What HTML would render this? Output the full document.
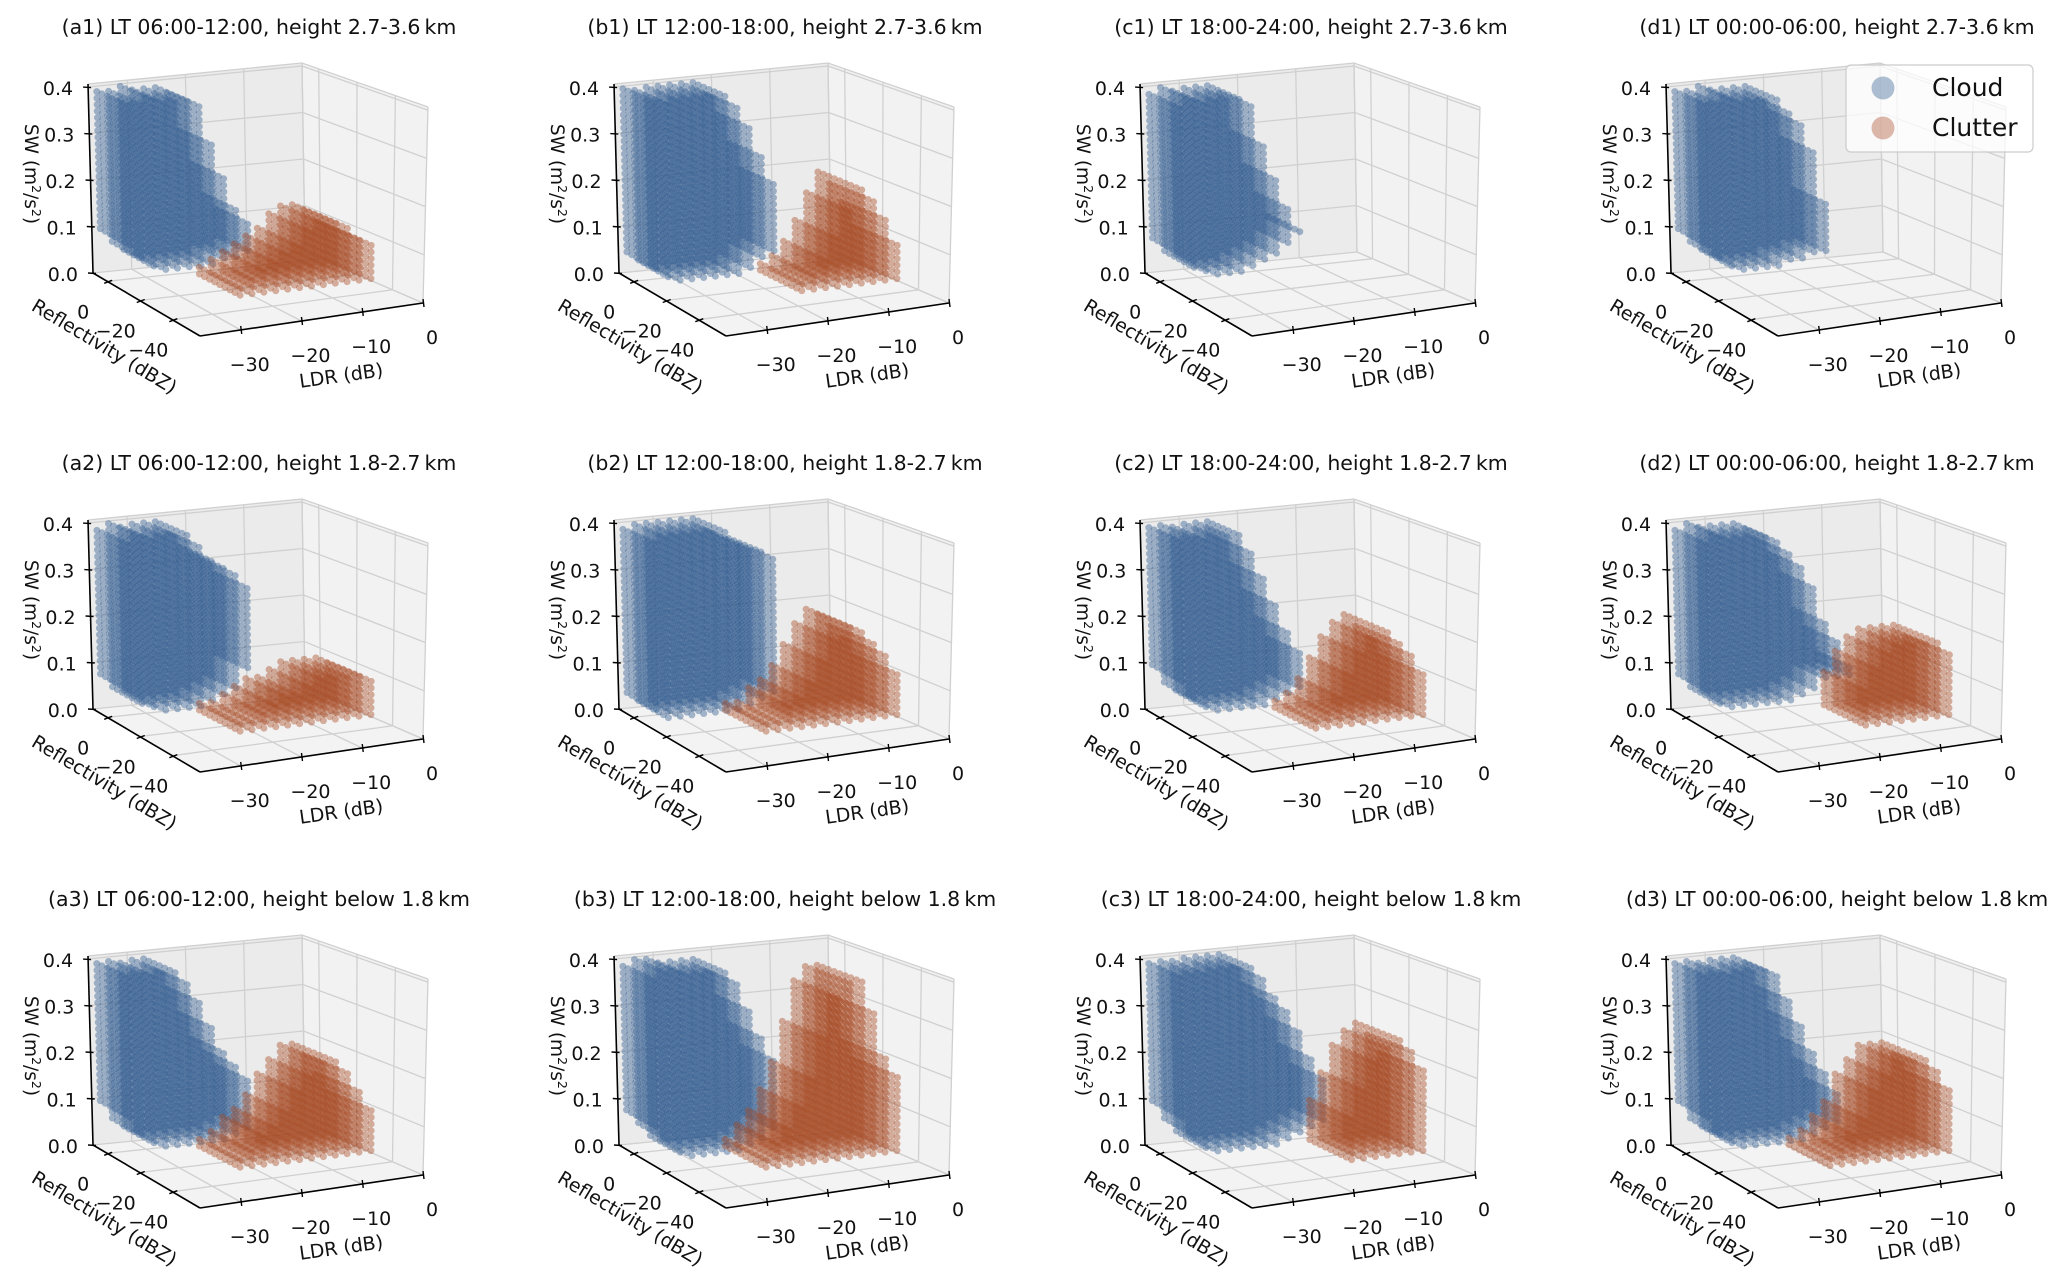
<!DOCTYPE html>
<html><head><meta charset="utf-8">
<style>
html,body{margin:0;padding:0;background:#fff;}
svg{display:block;font-family:"DejaVu Sans","Liberation Sans",sans-serif;}
</style></head>
<body>
<svg id="fig" width="2067" height="1288" viewBox="0 0 2067 1288" xmlns="http://www.w3.org/2000/svg">
<rect width="2067" height="1288" fill="#fff"/>
</svg>
<script>
// ---- data ----
const panelIds = ["a1","b1","c1","d1","a2","b2","c2","d2","a3","b3","c3","d3"];
const panelTitles = [
 "(a1) LT 06:00-12:00, height 2.7-3.6\u2009km","(b1) LT 12:00-18:00, height 2.7-3.6\u2009km","(c1) LT 18:00-24:00, height 2.7-3.6\u2009km","(d1) LT 00:00-06:00, height 2.7-3.6\u2009km",
 "(a2) LT 06:00-12:00, height 1.8-2.7\u2009km","(b2) LT 12:00-18:00, height 1.8-2.7\u2009km","(c2) LT 18:00-24:00, height 1.8-2.7\u2009km","(d2) LT 00:00-06:00, height 1.8-2.7\u2009km",
 "(a3) LT 06:00-12:00, height below 1.8\u2009km","(b3) LT 12:00-18:00, height below 1.8\u2009km","(c3) LT 18:00-24:00, height below 1.8\u2009km","(d3) LT 00:00-06:00, height below 1.8\u2009km"];
const zTicks = [0.0,0.1,0.2,0.3,0.4];
const zTickLabels = ["0.0","0.1","0.2","0.3","0.4"];
const reflTicks = [0,-20,-40];
const reflTickLabels = ["0","\u221220","\u221240"];
const ldrTicks = [-30,-20,-10,0];
const ldrTickLabels = ["\u221230","\u221220","\u221210","0"];
// cloud: LDR bins, per-panel top/bottom SW envelope, reflectivity span
const cloudLdr = [-36,-34,-32,-30,-28,-26,-24,-22,-20,-18,-16,-14,-12];
const cloudReflSpan = [6,-12];
const cloudTop = {
 a1:[.4,.4,.4,.4,.4,.4,.38,.3,.22,.16,.12,0,0],
 b1:[.4,.4,.4,.4,.4,.4,.4,.38,.33,.26,.2,0,0],
 c1:[.4,.4,.4,.4,.4,.4,.38,.3,.22,.15,.1,0,0],
 d1:[.4,.4,.4,.4,.4,.4,.4,.37,.33,.28,.16,0,0],
 a2:[.4,.4,.4,.4,.4,.4,.37,.34,.32,.3,.28,0,0],
 b2:[.4,.4,.4,.4,.4,.4,.4,.38,.36,.35,.34,0,0],
 c2:[.4,.4,.4,.4,.4,.4,.36,.3,.24,.18,.14,0,0],
 d2:[.4,.4,.4,.4,.4,.4,.38,.35,.32,.28,.2,.15,.1],
 a3:[.4,.4,.4,.4,.4,.37,.33,.28,.22,.18,.15,0,0],
 b3:[.4,.4,.4,.4,.4,.4,.4,.36,.3,.25,.2,0,0],
 c3:[.4,.4,.4,.4,.4,.4,.4,.38,.34,.3,.26,.2,.15],
 d3:[.4,.4,.4,.4,.4,.4,.38,.33,.27,.22,.17,.12,0]};
const cloudBot = {
 a1:[.1,.07,.05,.04,.04,.04,.04,.04,.05,.05,.06,0,0],
 b1:[.05,.03,.02,.02,.02,.02,.02,.02,.03,.05,.06,0,0],
 c1:[.08,.05,.04,.03,.03,.03,.04,.05,.06,.08,.1,0,0],
 d1:[.1,.07,.05,.04,.04,.04,.04,.05,.05,.06,.06,0,0],
 a2:[.08,.05,.04,.03,.03,.03,.03,.04,.05,.06,.1,0,0],
 b2:[.04,.02,.02,.02,.02,.02,.02,.02,.03,.04,.05,0,0],
 c2:[.1,.06,.04,.03,.03,.03,.03,.03,.04,.05,.06,0,0],
 d2:[.08,.05,.04,.04,.04,.04,.04,.04,.05,.06,.08,.08,.08],
 a3:[.1,.06,.04,.03,.03,.03,.03,.03,.03,.04,.05,0,0],
 b3:[.08,.05,.02,.01,.01,.01,.01,.01,.02,.03,.05,0,0],
 c3:[.1,.06,.03,.02,.02,.02,.02,.02,.02,.03,.04,.05,.06],
 d3:[.1,.06,.04,.03,.03,.03,.03,.03,.03,.04,.05,.06,0]};
// clutter: LDR bins, per-panel top SW envelope, reflectivity span
const clutLdr = [-22,-20,-18,-16,-14,-12,-10,-8,-6,-4,-2,0];
const clutReflSpan = [-4,-30];
const clutTop = {
 a1:[.03,.04,.05,.06,.08,.1,.12,.13,.13,.12,.1,.08],
 b1:[0,0,0,.02,.04,.07,.11,.16,.2,.18,.14,.08],
 c1:[0,0,0,0,0,0,0,0,0,0,0,0],
 d1:[0,0,0,0,0,0,0,0,0,0,0,0],
 a2:[.02,.03,.04,.05,.06,.07,.08,.09,.1,.1,.09,.08],
 b2:[.02,.03,.05,.07,.1,.14,.18,.2,.19,.16,.13,.1],
 c2:[0,0,.02,.04,.07,.11,.15,.18,.19,.17,.14,.1],
 d2:[0,0,0,0,.08,.12,.15,.17,.17,.17,.16,.14],
 a3:[.02,.04,.06,.08,.11,.15,.18,.2,.2,.18,.14,.1],
 b3:[.03,.05,.08,.12,.18,.26,.34,.38,.37,.3,.2,.16],
 c3:[0,0,0,0,0,.1,.15,.2,.24,.25,.22,.18],
 d3:[0,.02,.04,.06,.1,.15,.18,.2,.2,.2,.18,.14]};

// ---- axes geometry (panel-local) ----
const L0=-36.7, L1=0, R0=8.7, R1=-57, ZT=0.4065;
const FA=[93,273], FB=[200,336], FC=[423,303], FD=[305,252];
const TA=[88,84], TB=[200,136], TC=[428,107], TD=[302,63];
function bil(P,u,v,i){return (1-u)*(1-v)*P[0][i]+u*(1-v)*P[1][i]+u*v*P[2][i]+(1-u)*v*P[3][i];}
function proj(L,R,z){
  const u=(R0-R)/(R0-R1), v=(L-L0)/(L1-L0), t=z/ZT;
  const F=[FA,FB,FC,FD], T=[TA,TB,TC,TD];
  const fx=bil(F,u,v,0), fy=bil(F,u,v,1), tx=bil(T,u,v,0), ty=bil(T,u,v,1);
  return [fx+(tx-fx)*t, fy+(ty-fy)*t];
}
const NS="http://www.w3.org/2000/svg";
const svg=document.getElementById('fig');
function mk(tag,attrs,parent){const e=document.createElementNS(NS,tag);for(const k in attrs)e.setAttribute(k,attrs[k]);parent.appendChild(e);return e;}
function pts(a){return a.map(p=>p[0].toFixed(1)+","+p[1].toFixed(1)).join(" ");}

panelIds.forEach((id,k)=>{
  const ox=(k%4)*526, oy=Math.floor(k/4)*436;
  const g=mk('g',{transform:`translate(${ox},${oy})`},svg);
  
  
  const P=(L,R,z)=>proj(L,R,z);
  const wl=mk('polygon',{points:pts([P(L0,R0,0),P(L1,R0,0),P(L1,R0,ZT),P(L0,R0,ZT)]),fill:'#ebebeb'},g);
  
  
  const wr=mk('polygon',{points:pts([P(L1,R0,0),P(L1,R1,0),P(L1,R1,ZT),P(L1,R0,ZT)]),fill:'#f2f2f2'},g);
  
  
  const fl=mk('polygon',{points:pts([P(L0,R0,0),P(L0,R1,0),P(L1,R1,0),P(L1,R0,0)]),fill:'#f3f3f3'},g);
  
  
  const grid=mk('g',{stroke:'#d0d0d0','stroke-width':1.3,fill:'none'},g);
  
  
  ldrTicks.forEach(L=>{
    mk('polyline',{points:pts([P(L,R1,0),P(L,R0,0),P(L,R0,ZT)])},grid);
  });
  reflTicks.forEach(R=>{
    mk('polyline',{points:pts([P(L0,R,0),P(L1,R,0),P(L1,R,ZT)])},grid);
  });
  zTicks.forEach(z=>{
    mk('polyline',{points:pts([P(L0,R0,z),P(L1,R0,z),P(L1,R1,z)])},grid);
  });
  mk('polyline',{points:pts([P(L0,R0,ZT),P(L1,R0,ZT),P(L1,R1,ZT)])},grid);
  mk('polyline',{points:pts([P(L1,R0,0),P(L1,R0,ZT)])},grid);
  mk('polyline',{points:pts([P(L1,R1,0),P(L1,R1,ZT)])},grid);
  // cloud
  const cg=mk('g',{fill:'#2f5a8f','fill-opacity':0.42},g);
  
  
  const top=cloudTop[id], bot=cloudBot[id];
  cloudLdr.forEach((L,i)=>{
    if(!top[i])return;
    for(let R=cloudReflSpan[0];R>=cloudReflSpan[1];R-=3){
      for(let z=bot[i];z<=top[i]+1e-6;z+=0.014){
        const p=P(L,R,z);
        const c=mk('circle',{cx:p[0].toFixed(1),cy:p[1].toFixed(1),r:3.5},cg);
        
        
      }
    }
  });
  // clutter
  const kg=mk('g',{fill:'#a64a24','fill-opacity':0.42},g);
  
  
  const ct=clutTop[id];
  clutLdr.forEach((L,i)=>{
    if(!ct[i])return;
    for(let R=clutReflSpan[0];R>=clutReflSpan[1];R-=3){
      for(let z=0.004;z<=ct[i]+1e-6;z+=0.014){
        const p=P(L,R,z);
        const c=mk('circle',{cx:p[0].toFixed(1),cy:p[1].toFixed(1),r:3.5},kg);
        
        
      }
    }
  });
  const ax=mk('g',{stroke:'#000','stroke-width':1.6,fill:'none'},g);
  
  
  mk('polyline',{points:pts([P(L0,R0,0),P(L0,R0,ZT)])},ax);
  mk('polyline',{points:pts([P(L0,R0,0),P(L0,R1,0)])},ax);
  mk('polyline',{points:pts([P(L0,R1,0),P(L1,R1,0)])},ax);
  const tl=mk('g',{'font-size':19,fill:'#111'},g);
  
  
  zTicks.forEach((z,i)=>{
    const p=P(L0,R0,z);
    mk('line',{x1:p[0]-5,y1:p[1],x2:p[0]+3,y2:p[1]+0.5,stroke:'#000','stroke-width':1.4},ax);
    const t=mk('text',{x:p[0]-15,y:p[1]+8,'text-anchor':'end'},tl);
    t.textContent=zTickLabels[i];
    
    
  });
  reflTicks.forEach((R,i)=>{
    const p=P(L0,R,0);
    mk('line',{x1:p[0]-3,y1:p[1]+2,x2:p[0]+5,y2:p[1]-1,stroke:'#000','stroke-width':1.4},ax);
    const t=mk('text',{x:p[0]-24,y:p[1]+37,'text-anchor':'middle'},tl);
    t.textContent=reflTickLabels[i];
    
    
  });
  ldrTicks.forEach((L,i)=>{
    const p=P(L,R1,0);
    mk('line',{x1:p[0],y1:p[1]-4,x2:p[0]+1,y2:p[1]+4,stroke:'#000','stroke-width':1.4},ax);
    const t=mk('text',{x:p[0]+9,y:p[1]+41,'text-anchor':'middle'},tl);
    t.textContent=ldrTickLabels[i];
    
    
  });
  const zt=mk('text',{x:0,y:0,'font-size':18.5,'text-anchor':'middle',transform:'translate(25,174) rotate(90)',fill:'#111'},g);
  zt.innerHTML='SW (m<tspan dy="-7" font-size="12.5">2</tspan><tspan dy="7">/s</tspan><tspan dy="-7" font-size="12.5">2</tspan><tspan dy="7">)</tspan>';
  
  
  const rt=mk('text',{x:0,y:0,'font-size':19,'text-anchor':'middle',transform:'translate(101,352) rotate(31)',fill:'#111'},g);
  rt.textContent='Reflectivity (dBZ)';
  
  
  const lt=mk('text',{x:0,y:0,'font-size':19,'text-anchor':'middle',transform:'translate(342,382) rotate(-8)',fill:'#111'},g);
  lt.textContent='LDR (dB)';
  
  
  const tt=mk('text',{x:259,y:34,'font-size':20.5,'text-anchor':'middle',fill:'#111'},g);
  tt.textContent=panelTitles[k];
  
  
});
const lg=mk('g',{},svg);


mk('rect',{x:1846,y:65,width:187,height:87,rx:5,fill:'#fff','fill-opacity':0.75,stroke:'#cccccc','stroke-width':1.2},lg);
const l1=mk('circle',{cx:1883,cy:88,r:11.5,fill:'#2f5a8f','fill-opacity':0.38},lg);


const l2=mk('circle',{cx:1883,cy:128,r:11.5,fill:'#a64a24','fill-opacity':0.38},lg);


const t1=mk('text',{x:1932,y:96,'font-size':25,fill:'#111'},lg);
t1.textContent='Cloud';


const t2=mk('text',{x:1932,y:136,'font-size':25,fill:'#111'},lg);
t2.textContent='Clutter';


</script>
</body></html>
